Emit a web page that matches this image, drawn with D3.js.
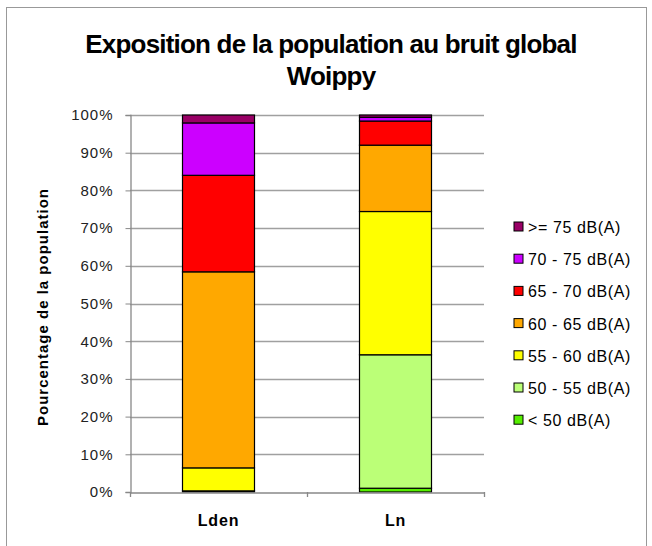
<!DOCTYPE html>
<html>
<head>
<meta charset="utf-8">
<script src="https://cdn.jsdelivr.net/npm/d3@7"></script>
<style>
  body { margin: 0; background: #fff; }
  text { font-family: "Liberation Sans", Arial, sans-serif; }
</style>
</head>
<body>
<svg id="chart" width="652" height="546"></svg>
<script>
// Categories (noise indicators) and noise bands, bottom to top
const categories = ["Lden", "Ln"];
const bands = ["< 50 dB(A)", "50 - 55 dB(A)", "55 - 60 dB(A)", "60 - 65 dB(A)", "65 - 70 dB(A)", "70 - 75 dB(A)", ">= 75 dB(A)"];
const bandColors = ["#55EE00", "#BBFF77", "#FFFF00", "#FFA800", "#FF0000", "#CC00FF", "#990066"];
// Share of population (%) per band, same order as bands
const ldenValues = [0.0, 0.3, 6.1, 52.0, 25.6, 13.9, 2.1];
const lnValues = [1.0, 35.4, 38.0, 17.6, 6.4, 1.0, 0.6];
const yTicks = [0, 10, 20, 30, 40, 50, 60, 70, 80, 90, 100];

const FONT = "Liberation Sans, Arial, sans-serif";
const svg = d3.select("#chart");

// outer frame
svg.append("rect")
  .attr("x", 6.5).attr("y", 7.5).attr("width", 640).attr("height", 546)
  .attr("fill", "none").attr("stroke", "#999").attr("stroke-width", 1);

const plot = { left: 130, right: 484, top: 115, bottom: 492 };

const x = d3.scaleBand().domain(categories).range([plot.left, plot.right]).paddingInner(0).paddingOuter(0);
const y = d3.scaleLinear().domain([0, 100]).range([plot.bottom, plot.top]);

// gridlines
svg.append("g").selectAll("line").data(yTicks.filter(d => d > 0)).join("line")
  .attr("x1", plot.left).attr("x2", plot.right)
  .attr("y1", d => Math.round(y(d)) + 0.5).attr("y2", d => Math.round(y(d)) + 0.5)
  .attr("stroke", "#A0A0A0").attr("stroke-width", 1.3);

// y axis
const yAxis = svg.append("g").attr("transform", `translate(${plot.left + 0.5},0)`)
  .call(d3.axisLeft(y).tickValues(yTicks).tickFormat(d => d + "%").tickSize(5).tickPadding(12));
yAxis.select(".domain").attr("stroke", "#888").attr("stroke-width", 1.3);
yAxis.selectAll(".tick line").attr("stroke", "#888");
yAxis.selectAll(".tick text").attr("font-size", 15).attr("letter-spacing", 1).attr("fill", "#222")
  .attr("font-family", FONT);

// stacked bars
const rows = categories.map((c, i) => {
  const vals = i === 0 ? ldenValues : lnValues;
  const o = { cat: c };
  bands.forEach((b, j) => o[b] = vals[j]);
  return o;
});
const stacked = d3.stack().keys(bands)(rows);
const barW = 72;
svg.append("g").selectAll("g").data(stacked).join("g")
  .attr("fill", (d, i) => bandColors[i])
  .selectAll("rect").data(d => d).join("rect")
  .attr("x", d => x(d.data.cat) + x.bandwidth() / 2 - barW / 2)
  .attr("y", d => y(d[1]))
  .attr("width", barW)
  .attr("height", d => Math.max(0, y(d[0]) - y(d[1])))
  .attr("stroke", "#000").attr("stroke-width", 1.2);

// x axis
const xAxis = svg.append("g").attr("transform", `translate(0,${plot.bottom + 0.5})`)
  .call(d3.axisBottom(x).tickSize(0).tickPadding(22));
xAxis.select(".domain").attr("stroke", "#888").attr("stroke-width", 1.3);
xAxis.selectAll(".tick text").attr("font-size", 16).attr("font-weight", "bold")
  .attr("letter-spacing", 0.8).attr("fill", "#000").attr("font-family", FONT);
// category separators
svg.append("g").selectAll("line").data([plot.left, plot.left + x.bandwidth(), plot.right]).join("line")
  .attr("x1", d => d + 0.5).attr("x2", d => d + 0.5)
  .attr("y1", plot.bottom).attr("y2", plot.bottom + 5)
  .attr("stroke", "#888").attr("stroke-width", 1.3);

// title
const title = svg.append("text").attr("text-anchor", "middle").attr("font-size", 26)
  .attr("font-weight", "bold").attr("letter-spacing", -0.8).attr("fill", "#000");
title.append("tspan").attr("x", 331).attr("y", 53).text("Exposition de la population au bruit global");
title.append("tspan").attr("x", 331).attr("y", 85).text("Woippy");

// y axis title
svg.append("text")
  .attr("transform", "translate(48,307) rotate(-90)")
  .attr("text-anchor", "middle").attr("font-size", 15).attr("font-weight", "bold")
  .attr("letter-spacing", 1)
  .text("Pourcentage de la population");

// legend, top entry first
const legend = svg.append("g");
const legendItems = bands.map((b, i) => ({ label: b, color: bandColors[i] })).reverse();
const lg = legend.selectAll("g").data(legendItems).join("g")
  .attr("transform", (d, i) => `translate(514,${222 + i * 32.2})`);
lg.append("rect").attr("width", 9).attr("height", 9)
  .attr("fill", d => d.color).attr("stroke", "#000").attr("stroke-width", 1);
lg.append("text").attr("x", 14).attr("y", 11).attr("font-size", 16).attr("letter-spacing", 0.6)
  .attr("fill", "#000").text(d => d.label);
</script>
</body>
</html>
